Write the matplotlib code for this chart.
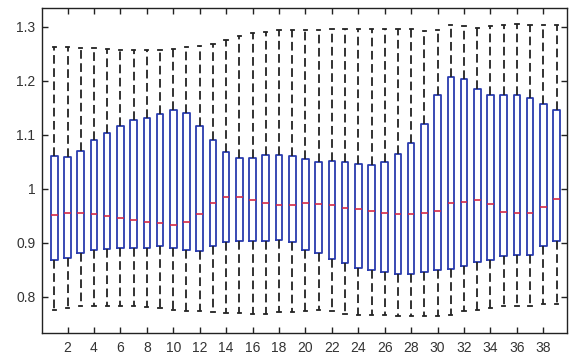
import matplotlib
matplotlib.use("Agg")
import matplotlib.pyplot as plt

# Per-group summary statistics (groups 1..39)
upper_whisker = [1.262, 1.262, 1.2605, 1.260, 1.259, 1.257, 1.257, 1.257, 1.257, 1.259,
                 1.262, 1.2635, 1.268, 1.2746, 1.283, 1.2876, 1.2895, 1.2944, 1.294, 1.293,
                 1.294, 1.2963, 1.296, 1.296, 1.296, 1.296, 1.296, 1.296, 1.2914, 1.294,
                 1.303, 1.3006, 1.2976, 1.3006, 1.303, 1.3044, 1.304, 1.304, 1.303]
q3 = [1.0598, 1.058, 1.069, 1.0895, 1.103, 1.1167, 1.1265, 1.131, 1.138, 1.146,
      1.1405, 1.1167, 1.0895, 1.068, 1.0574, 1.0574, 1.0623, 1.0623, 1.0598, 1.0543,
      1.050, 1.0518, 1.0494, 1.0463, 1.0438, 1.0494, 1.0648, 1.0846, 1.1198, 1.1735,
      1.206, 1.203, 1.1846, 1.1735, 1.1735, 1.1735, 1.168, 1.1574, 1.146]
median = [0.9519, 0.9543, 0.9543, 0.9525, 0.9488, 0.9457, 0.9414, 0.9377, 0.9364, 0.9333,
          0.9383, 0.954, 0.9735, 0.985, 0.985, 0.9796, 0.9735, 0.969, 0.969, 0.9735,
          0.971, 0.969, 0.9642, 0.963, 0.9587, 0.9543, 0.953, 0.953, 0.9543, 0.958,
          0.9735, 0.9753, 0.9796, 0.971, 0.9574, 0.9543, 0.9543, 0.9654, 0.981]
q1 = [0.868, 0.8716, 0.881, 0.8864, 0.8883, 0.8907, 0.8907, 0.8907, 0.8932, 0.8907,
      0.8864, 0.8846, 0.894, 0.9006, 0.9025, 0.9025, 0.9025, 0.9043, 0.9006, 0.887,
      0.8802, 0.8698, 0.8624, 0.8524, 0.8493, 0.845, 0.8426, 0.8426, 0.8463, 0.8487,
      0.8512, 0.8561, 0.8642, 0.8685, 0.8747, 0.8778, 0.8778, 0.8932, 0.9037]
lower_whisker = [0.776, 0.779, 0.782, 0.782, 0.782, 0.782, 0.782, 0.781, 0.7796, 0.776,
                 0.7735, 0.7728, 0.771, 0.7698, 0.7698, 0.7685, 0.7685, 0.771, 0.771, 0.7728,
                 0.776, 0.7728, 0.7685, 0.7654, 0.7654, 0.7654, 0.7636, 0.7636, 0.7636, 0.7636,
                 0.7654, 0.7734, 0.776, 0.7796, 0.782, 0.783, 0.783, 0.787, 0.787]

groups = list(range(1, len(median) + 1))
xtick_values = list(range(2, 39, 2))
ytick_values = [0.8, 0.9, 1.0, 1.1, 1.2, 1.3]
ytick_labels = ["0.8", "0.9", "1", "1.1", "1.2", "1.3"]

plt.rcParams["font.family"] = ["Liberation Sans", "DejaVu Sans"]

fig = plt.figure(figsize=(5.69, 3.56), dpi=100)
ax = fig.add_axes([0.0743, 0.0654, 0.9222, 0.9113])

stats = [
    {"med": m, "q1": lo, "q3": hi, "whislo": wl, "whishi": wh, "fliers": []}
    for m, lo, hi, wl, wh in zip(median, q1, q3, lower_whisker, upper_whisker)
]

ax.bxp(
    stats,
    positions=groups,
    widths=0.5,
    capwidths=0.25,
    showfliers=False,
    boxprops=dict(color="#2a3cae", linewidth=1.3),
    medianprops=dict(color="#d42a48", linewidth=1.2),
    whiskerprops=dict(color="#222222", linewidth=1.3, linestyle=(0, (4.8, 2.5))),
    capprops=dict(color="#222222", linewidth=1.3),
)

ax.set_xlim(0.09, 39.79)
ax.set_ylim(0.7333, 1.3341)
ax.set_xticks(xtick_values)
ax.set_xticklabels([str(v) for v in xtick_values])
ax.set_yticks(ytick_values)
ax.set_yticklabels(ytick_labels)

ax.tick_params(direction="in", length=4, width=1, top=True, right=True,
               labelsize=10, labelcolor="#333333", colors="#222222", pad=5)
ax.tick_params(axis="x", pad=6)
for side in ax.spines.values():
    side.set_color("#222222")
    side.set_linewidth(1.0)

fig.savefig("out.png", dpi=100)
